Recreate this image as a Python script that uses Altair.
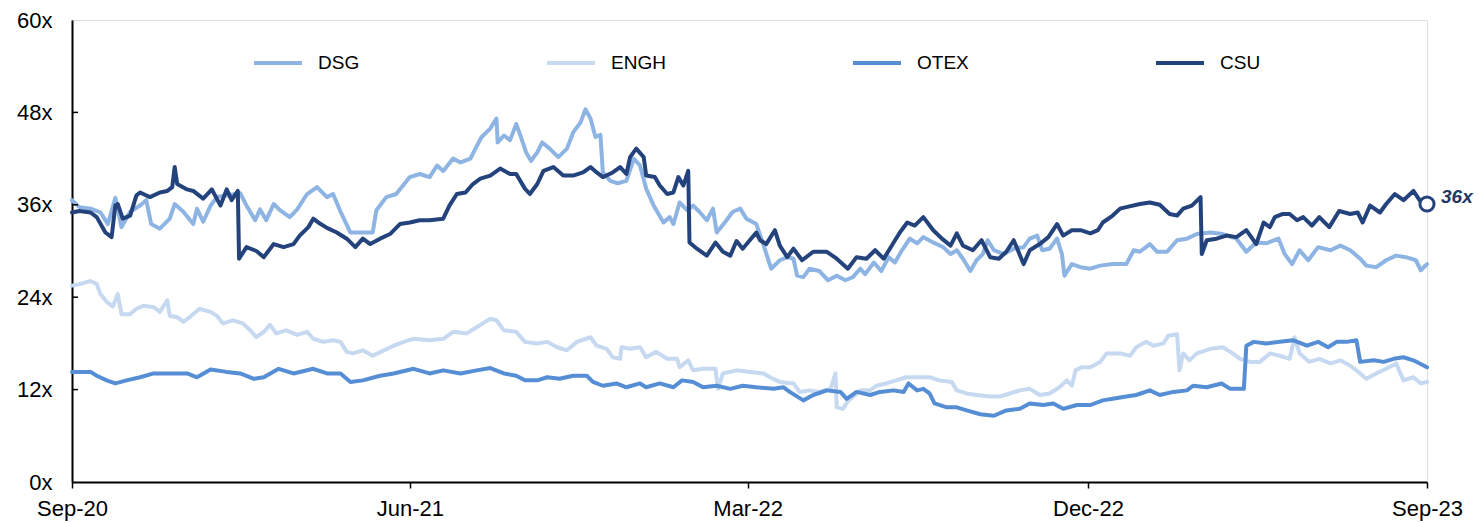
import altair as alt
import pandas as pd

# x values are days since 2020-09-01
series_names = ["DSG", "ENGH", "OTEX", "CSU"]
series_colors = ["#8DB4E2", "#C6D9F1", "#558ED5", "#24437C"]

dsg_days = [0, 6, 15, 23, 29, 35, 40, 47, 55, 60, 64, 71, 79, 83, 90, 98, 101, 106, 112, 117,
            125, 136, 141, 148, 152, 157, 163, 168, 176, 182, 190, 198, 206, 211, 217, 225, 233, 243, 246, 254,
            262, 273, 281, 289, 295, 300, 308, 314, 322, 326, 331, 338, 343, 344, 349, 354, 359, 363, 367, 371,
            376, 380, 386, 393, 400, 405, 411, 415, 419, 423, 427, 429, 435, 441, 448, 454, 459, 464, 470, 478,
            483, 486, 491, 497, 502, 507, 513, 518, 521, 528, 534, 540, 545, 553, 559, 565, 572, 578, 583, 586,
            591, 596, 604, 611, 618, 625, 631, 637, 641, 648, 654, 660, 665, 670, 677, 683, 688, 696, 704, 710,
            715, 720, 726, 731, 736, 740, 745, 753, 761, 769, 774, 780, 784, 790, 796, 800, 802, 808, 815, 823,
            831, 841, 852, 858, 863, 871, 877, 885, 893, 901, 909, 920, 930, 941, 949, 957, 965, 975, 980, 986,
            992, 999, 1007, 1017, 1025, 1033, 1041, 1046, 1054, 1062, 1070, 1078, 1086, 1090, 1095]
dsg_vals = [36.6, 35.7, 35.5, 35.0, 33.5, 36.9, 33.1, 35.1, 35.9, 36.6, 33.5, 32.9, 34.2, 36.1, 35.1, 33.5, 35.5, 33.8, 35.9, 37.0,
            37.2, 37.5, 35.9, 34.0, 35.4, 34.0, 36.1, 35.3, 34.4, 35.4, 37.4, 38.3, 37.0, 37.4, 35.1, 32.4, 32.4, 32.4, 35.3, 37.0,
            37.4, 39.6, 40.0, 39.6, 41.1, 40.4, 42.0, 41.5, 42.0, 43.3, 44.8, 45.9, 47.2, 44.1, 45.0, 44.4, 46.5, 44.7, 42.8, 41.7,
            42.8, 44.1, 43.3, 42.2, 43.3, 45.4, 46.7, 48.4, 47.2, 44.8, 45.1, 40.2, 39.1, 38.8, 39.1, 42.0, 41.1, 38.1, 35.9, 33.7,
            34.4, 33.5, 36.3, 35.3, 35.9, 35.1, 34.0, 35.5, 32.4, 33.8, 35.1, 35.5, 34.2, 33.5, 30.7, 27.7, 28.8, 29.2, 29.0, 26.8,
            26.6, 27.7, 27.4, 26.2, 26.8, 26.2, 26.6, 27.7, 27.0, 28.5, 27.4, 29.2, 28.5, 29.9, 31.6, 31.0, 31.8, 31.1, 30.5, 29.6,
            30.1, 29.0, 27.4, 28.8, 29.6, 31.4, 30.1, 29.6, 30.3, 30.5, 31.6, 32.0, 30.1, 30.3, 31.6, 29.6, 26.8, 28.3, 27.9, 27.7,
            28.1, 28.3, 28.3, 30.1, 29.9, 30.9, 29.9, 29.9, 31.4, 31.6, 32.2, 32.4, 32.2, 31.6, 29.9, 31.1, 31.0, 31.6, 29.6, 28.3,
            30.1, 28.8, 30.5, 30.1, 30.7, 30.1, 29.0, 28.1, 27.9, 28.8, 29.4, 29.2, 28.8, 27.5, 28.3]

engh_days = [0, 6, 15, 20, 23, 28, 33, 37, 40, 47, 52, 58, 66, 71, 77, 79, 85, 90, 95, 103,
             112, 117, 122, 130, 138, 144, 149, 155, 160, 165, 173, 182, 190, 195, 203, 211, 217, 222, 227, 235,
             243, 252, 260, 268, 276, 289, 300, 308, 319, 327, 332, 338, 343, 349, 359, 366, 376, 384, 392, 400,
             408, 419, 424, 432, 437, 443, 444, 451, 459, 464, 472, 481, 489, 491, 498, 502, 510, 520, 522, 526,
             537, 548, 559, 564, 572, 583, 588, 596, 604, 613, 617, 618, 623, 627, 637, 645, 650, 658, 666, 674,
             685, 693, 701, 711, 715, 723, 731, 742, 750, 758, 766, 774, 782, 790, 798, 804, 808, 811, 816, 823,
             831, 836, 847, 855, 860, 868, 874, 882, 886, 893, 895, 898, 903, 909, 920, 930, 938, 944, 952, 960,
             968, 976, 984, 988, 992, 1000, 1008, 1017, 1025, 1033, 1041, 1046, 1054, 1062, 1070, 1076, 1084, 1090, 1095]
engh_vals = [25.5, 25.7, 26.1, 25.7, 24.4, 23.4, 22.8, 24.4, 21.8, 21.8, 22.5, 22.9, 22.7, 22.1, 23.6, 21.6, 21.4, 20.8, 21.4, 22.5,
             22.1, 21.6, 20.6, 21.0, 20.6, 19.7, 18.8, 19.5, 20.4, 19.3, 19.7, 19.1, 19.5, 18.6, 18.2, 18.4, 18.2, 16.9, 16.7, 17.1,
             16.4, 17.1, 17.7, 18.2, 18.6, 18.4, 18.6, 19.5, 19.3, 20.1, 20.6, 21.2, 21.0, 19.7, 19.5, 18.2, 18.0, 18.2, 17.5, 17.1,
             18.2, 18.8, 17.7, 17.3, 16.2, 16.0, 17.5, 17.3, 17.5, 16.2, 16.9, 16.0, 16.0, 14.9, 15.8, 14.5, 14.7, 14.7, 12.1, 14.1,
             14.5, 14.3, 14.1, 13.6, 13.0, 12.8, 11.7, 11.9, 11.7, 12.1, 14.1, 9.7, 9.5, 10.5, 11.9, 11.9, 12.5, 12.8, 13.2, 13.6,
             13.6, 13.6, 13.2, 13.0, 11.9, 11.5, 11.3, 11.1, 11.1, 11.5, 11.9, 12.1, 11.3, 11.5, 12.3, 13.2, 12.5, 14.5, 14.9, 14.9,
             15.6, 16.7, 16.7, 16.4, 17.5, 18.2, 17.7, 18.0, 19.0, 19.2, 14.5, 16.7, 15.8, 16.7, 17.3, 17.5, 16.7, 16.0, 15.6, 15.6,
             16.7, 16.4, 16.0, 18.8, 16.7, 15.6, 16.0, 15.4, 15.8, 15.1, 14.1, 13.4, 14.1, 14.7, 15.4, 13.2, 13.6, 12.8, 13.0]

otex_days = [0, 15, 20, 28, 35, 44, 55, 66, 79, 93, 101, 112, 125, 136, 147, 155, 167, 179, 195, 206,
             217, 225, 235, 249, 260, 276, 289, 300, 314, 327, 338, 349, 359, 366, 376, 384, 394, 405, 416, 421,
             429, 440, 448, 459, 464, 475, 486, 493, 502, 510, 521, 532, 542, 553, 567, 575, 580, 591, 599, 610,
             621, 626, 634, 645, 653, 664, 672, 676, 683, 688, 693, 697, 707, 715, 723, 734, 745, 755, 766, 774,
             785, 793, 801, 812, 823, 833, 841, 852, 860, 871, 879, 890, 901, 906, 917, 929, 936, 947, 949, 955,
             965, 976, 987, 998, 1007, 1015, 1022, 1030, 1038, 1041, 1052, 1060, 1068, 1076, 1084, 1095]
otex_vals = [14.3, 14.3, 13.8, 13.2, 12.8, 13.2, 13.6, 14.1, 14.1, 14.1, 13.6, 14.6, 14.3, 14.1, 13.4, 13.6, 14.7, 14.1, 14.7, 14.1,
             14.1, 13.0, 13.2, 13.8, 14.1, 14.7, 14.1, 14.5, 14.1, 14.5, 14.8, 14.1, 13.8, 13.2, 13.2, 13.6, 13.4, 13.8, 13.8, 13.0,
             12.5, 12.8, 12.3, 12.8, 12.3, 12.8, 12.3, 13.2, 13.0, 12.3, 12.5, 12.1, 12.5, 12.3, 12.1, 12.3, 11.7, 10.6, 11.3, 11.9,
             11.7, 10.8, 11.7, 11.3, 11.7, 11.9, 11.7, 12.8, 11.9, 12.1, 11.5, 10.2, 9.7, 9.7, 9.3, 8.8, 8.6, 9.3, 9.5, 10.2,
             10.0, 10.2, 9.5, 10.0, 10.0, 10.6, 10.8, 11.1, 11.3, 11.9, 11.3, 11.7, 11.9, 12.5, 12.3, 12.8, 12.1, 12.1, 17.7, 18.2,
             18.0, 18.2, 18.4, 17.7, 18.2, 17.5, 18.2, 18.2, 18.4, 15.6, 15.8, 15.6, 16.0, 16.2, 15.8, 14.9]

csu_days = [0, 6, 15, 20, 27, 32, 35, 37, 41, 47, 52, 55, 63, 71, 77, 81, 83, 85, 93, 98,
            106, 113, 120, 125, 129, 134, 135, 141, 149, 155, 163, 171, 179, 184, 191, 195, 200, 206, 214, 222,
            229, 235, 241, 249, 257, 265, 273, 281, 289, 300, 305, 311, 318, 324, 330, 338, 346, 354, 359, 366,
            370, 376, 381, 389, 397, 405, 413, 419, 424, 429, 437, 443, 448, 451, 456, 462, 464, 471, 475, 481,
            486, 490, 494, 498, 499, 505, 513, 520, 526, 532, 537, 542, 553, 556, 561, 568, 572, 578, 583, 590,
            599, 610, 618, 627, 634, 642, 649, 656, 664, 669, 675, 681, 688, 696, 703, 710, 715, 720, 728, 735,
            742, 749, 755, 761, 769, 774, 782, 789, 796, 801, 808, 815, 823, 829, 833, 841, 847, 852, 863, 871,
            879, 887, 893, 898, 905, 912, 913, 917, 925, 933, 941, 949, 957, 963, 968, 972, 978, 984, 990, 995,
            1002, 1008, 1016, 1024, 1033, 1039, 1043, 1049, 1057, 1062, 1069, 1076, 1084, 1089, 1095]
csu_vals = [35.0, 35.2, 35.0, 34.4, 32.4, 31.8, 35.9, 36.1, 34.2, 34.6, 37.2, 37.6, 37.0, 37.6, 37.8, 38.3, 40.9, 38.7, 38.0, 37.8,
            36.8, 38.0, 35.9, 38.0, 36.6, 37.8, 29.0, 30.5, 30.0, 29.2, 30.9, 30.5, 30.9, 32.0, 33.1, 34.2, 33.6, 33.0, 32.4, 31.6,
            30.5, 31.6, 30.9, 31.6, 32.2, 33.5, 33.7, 34.0, 34.0, 34.2, 35.9, 37.4, 37.6, 38.7, 39.4, 39.8, 40.7, 40.0, 40.0, 38.1,
            37.4, 38.7, 40.4, 40.9, 39.8, 39.8, 40.2, 40.9, 40.2, 39.6, 40.2, 40.9, 40.0, 42.2, 43.3, 42.2, 39.8, 39.6, 38.5, 37.4,
            37.6, 39.6, 38.5, 40.4, 31.1, 30.3, 29.4, 31.1, 29.9, 29.4, 31.3, 30.3, 32.4, 31.4, 30.9, 32.7, 30.7, 29.2, 30.3, 28.8,
            29.9, 29.9, 29.0, 27.7, 29.2, 29.0, 30.1, 29.0, 31.1, 32.4, 33.7, 33.3, 34.4, 32.7, 31.6, 30.7, 32.3, 30.7, 30.1, 31.4,
            29.2, 29.0, 29.9, 31.4, 28.3, 30.1, 30.9, 31.8, 33.5, 32.0, 32.7, 32.7, 32.3, 32.7, 33.7, 34.6, 35.5, 35.7, 36.1, 36.3,
            36.0, 34.8, 34.6, 35.5, 35.9, 37.0, 29.6, 31.4, 31.6, 32.0, 31.8, 32.7, 30.9, 33.7, 33.1, 34.4, 34.8, 34.8, 34.0, 34.4,
            33.3, 34.4, 33.1, 35.2, 34.8, 35.0, 33.7, 35.9, 35.0, 36.1, 37.4, 36.6, 37.8, 36.6, 36.1]

y_ticks = [0, 12, 24, 36, 48, 60]
end_label = "36x"

start = pd.Timestamp("2020-09-01")
frames = []
for name, days, vals in [("DSG", dsg_days, dsg_vals), ("ENGH", engh_days, engh_vals),
                         ("OTEX", otex_days, otex_vals), ("CSU", csu_days, csu_vals)]:
    assert len(days) == len(vals), name
    dates = [(start + pd.Timedelta(days=d)).strftime("%Y-%m-%dT00:00:00") for d in days]
    frames.append(pd.DataFrame({"date": dates, "value": vals, "series": name,
                                "order": series_names.index(name)}))
df = pd.concat(frames, ignore_index=True)

end_df = pd.DataFrame({"date": [(start + pd.Timedelta(days=csu_days[-1])).strftime("%Y-%m-%dT00:00:00")],
                       "value": [csu_vals[-1]], "label": [end_label]})
tick_df = pd.DataFrame({"v": y_ticks[1:-1]})

FONT = "Liberation Sans"
x_scale = alt.Scale(domain=[alt.DateTime(year=2020, month=9, date=1), alt.DateTime(year=2023, month=9, date=1)])
y_scale = alt.Scale(domain=[0, 60], nice=False)
x_ticks = [alt.DateTime(year=2020, month=9, date=1), alt.DateTime(year=2021, month=6, date=1),
           alt.DateTime(year=2022, month=3, date=1), alt.DateTime(year=2022, month=12, date=1),
           alt.DateTime(year=2023, month=9, date=1)]

lines = alt.Chart(df).mark_line(strokeWidth=4, strokeJoin="round", strokeCap="round").encode(
    x=alt.X("date:T", scale=x_scale, title=None,
            axis=alt.Axis(values=x_ticks, format="%b-%y", labelFontSize=22, labelFont=FONT,
                          labelColor="black", tickSize=6, tickColor="black", tickWidth=1.5,
                          domainColor="black", domainWidth=2, grid=False, labelPadding=10,
                          labelFlush=False)),
    y=alt.Y("value:Q", scale=y_scale, title=None,
            axis=alt.Axis(values=y_ticks, labelExpr="datum.value + 'x'", labelFontSize=22, labelFont=FONT,
                          labelColor="black", ticks=False, domainColor="black", domainWidth=2,
                          grid=False, labelPadding=20)),
    color=alt.Color("series:N", scale=alt.Scale(domain=series_names, range=series_colors),
                    sort=series_names,
                    legend=alt.Legend(orient="none", legendX=180, legendY=17, direction="horizontal",
                                      title=None, symbolType="stroke", symbolSize=2304,
                                      symbolStrokeWidth=4, labelFontSize=19, labelFont=FONT,
                                      labelColor="black", columnPadding=179, labelOffset=14)),
    order=alt.Order("order:Q"),
    detail="series:N",
)

inner_ticks = alt.Chart(tick_df).mark_rule(color="black", strokeWidth=1.5).encode(
    x=alt.value(0), x2=alt.value(6), y=alt.Y("v:Q", scale=y_scale))

end_point = alt.Chart(end_df).mark_point(shape="circle", filled=True, fill="white", stroke="#24437C",
                                         strokeWidth=3, size=200, opacity=1).encode(
    x=alt.X("date:T", scale=x_scale), y=alt.Y("value:Q", scale=y_scale))

end_text = alt.Chart(end_df).mark_text(align="left", baseline="middle", dx=14, dy=-7, fontSize=19,
                                       fontStyle="italic", fontWeight="bold", font=FONT,
                                       color="#1F3864").encode(
    x=alt.X("date:T", scale=x_scale), y=alt.Y("value:Q", scale=y_scale), text="label:N")

chart = alt.layer(lines, inner_ticks, end_point, end_text).properties(
    width=1355, height=462,
    autosize=alt.AutoSizeParams(type="none"),
    padding={"left": 72, "top": 20, "right": 51, "bottom": 41},
).configure_view(stroke="black", strokeWidth=2).configure(background="white")

chart.save("out.html", embed_options={"renderer": "svg", "actions": False})
